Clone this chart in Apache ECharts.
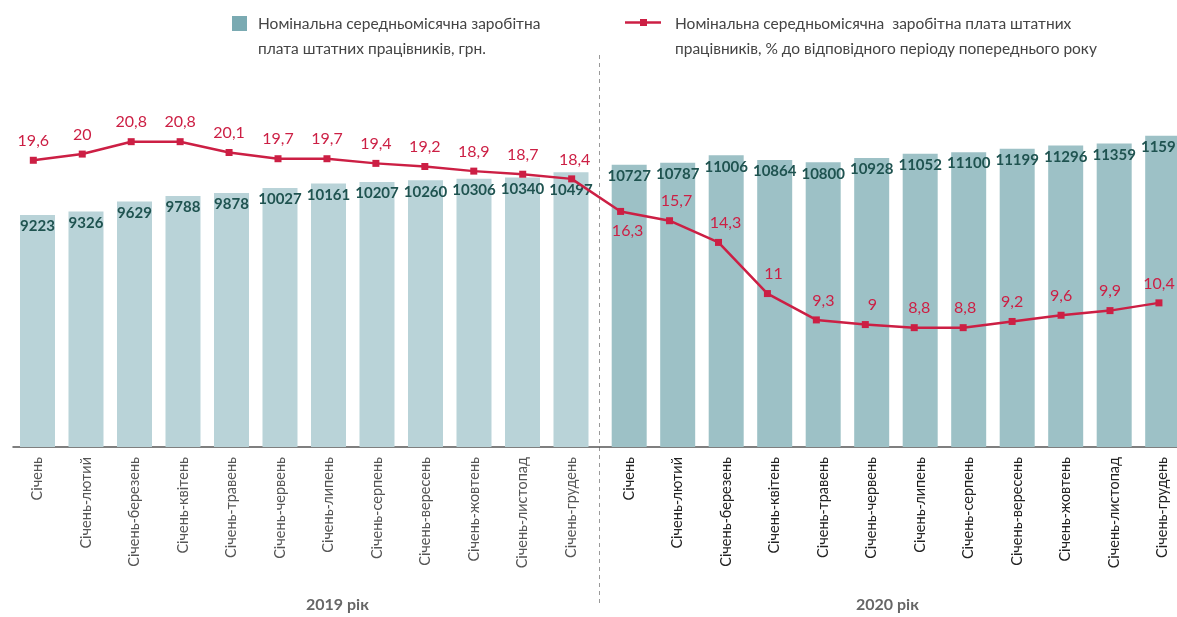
<!DOCTYPE html>
<html>
<head>
<meta charset="utf-8">
<script src="https://cdn.jsdelivr.net/npm/echarts@6/dist/echarts.min.js"></script>
<style>
  html, body { margin: 0; padding: 0; background: #fff; }
  #chart { width: 1177px; height: 617px; }
</style>
</head>
<body>
<div id="chart"></div>
<script>
// categories (same twelve periods for both years)
var periods = ['Січень', 'Січень-лютий', 'Січень-березень', 'Січень-квітень', 'Січень-травень',
    'Січень-червень', 'Січень-липень', 'Січень-серпень', 'Січень-вересень', 'Січень-жовтень',
    'Січень-листопад', 'Січень-грудень'];
var categories = periods.concat(periods);
var years = ['2019 рік', '2020 рік'];

// nominal average monthly wage, UAH
var wage = [9223, 9326, 9629, 9788, 9878, 10027, 10161, 10207, 10260, 10306, 10340, 10497,
    10727, 10787, 11006, 10864, 10800, 10928, 11052, 11100, 11199, 11296, 11359, 11591];
// % to the same period of previous year
var wagePct = [19.6, 20, 20.8, 20.8, 20.1, 19.7, 19.7, 19.4, 19.2, 18.9, 18.7, 18.4,
    16.3, 15.7, 14.3, 11, 9.3, 9, 8.8, 8.8, 9.2, 9.6, 9.9, 10.4];

var nameBar = 'Номінальна середньомісячна заробітна\nплата штатних працівників, грн.';
var nameLine = 'Номінальна середньомісячна  заробітна плата штатних\nпрацівників, % до відповідного періоду попереднього року';

var FONT = 'Lato, "Noto Sans", sans-serif';
var red = '#cc1f44';
var YEAR_GAP = 0.2; // extra space between the two years for the bars, in category units

// slot position of each bar on the x axis (second year shifted by the gap)
var pos = categories.map(function (c, i) { return i + (i >= 12 ? YEAR_GAP : 0); });
// the line in the original is spaced evenly, not following the bar gap
var lineLabelShift = { 11: [3, 0], 12: [7, 0], 13: [7, 0], 14: [7, 0], 15: [6, 0],
    16: [7, 0], 17: [7, 0], 18: [5, 0], 19: [2, 0] };

var chart = echarts.init(document.getElementById('chart'));

var barData = wage.map(function (v, i) {
    var item = {
        value: [pos[i], v],
        itemStyle: { color: i < 12 ? '#b9d3d8' : '#9dc1c6' }
    };
    if (i === 11) item.label = { offset: [0, 6] };
    return item;
});

var lineData = wagePct.map(function (v, i) {
    var item = { value: [i, v] };
    if (i === 12) {
        item.label = { position: 'bottom', distance: 8, offset: lineLabelShift[i] };
    } else if (lineLabelShift[i]) {
        item.label = { offset: lineLabelShift[i] };
    }
    return item;
});

var option = {
    animation: false,
    textStyle: { fontFamily: FONT },
    grid: { left: 13, right: 0, top: 60, bottom: 170, containLabel: false },
    xAxis: [
        {
            type: 'value',
            min: -0.505,
            max: 23.495,
            splitLine: { show: false },
            axisLine: { lineStyle: { color: '#555', width: 1.5 } },
            axisTick: { show: false },
            axisLabel: {
                customValues: pos,
                rotate: 90,
                margin: 10,
                fontSize: 14.5,
                formatter: function (v) {
                    for (var i = 0; i < pos.length; i++) {
                        if (Math.abs(pos[i] - v) < 1e-6) {
                            return i < 12 ? '{a|' + categories[i] + '}' : '{b|' + categories[i] + '}';
                        }
                    }
                    return '';
                },
                rich: {
                    a: { color: '#555', fontSize: 14.5, fontFamily: FONT },
                    b: { color: '#222', fontSize: 14.5, fontFamily: FONT }
                }
            }
        },
        {
            type: 'value',
            min: -0.415,
            max: 23.369,
            show: false
        }
    ],
    yAxis: [
        { type: 'value', min: 2300, max: 13850, show: false },
        { type: 'value', min: 1.1, max: 26.07, show: false }
    ],
    series: [
        {
            name: nameBar,
            type: 'bar',
            data: barData,
            barWidth: 35,
            label: {
                show: true,
                position: 'insideTop',
                distance: 4,
                color: '#1f5350',
                fontSize: 15,
                fontWeight: 'bold',
                formatter: function (p) { return p.value[1]; }
            },
            z: 2
        },
        {
            name: nameLine,
            type: 'line',
            xAxisIndex: 1,
            yAxisIndex: 1,
            data: lineData,
            symbol: 'rect',
            symbolSize: 7,
            lineStyle: { color: red, width: 2.5 },
            itemStyle: { color: red },
            label: {
                show: true,
                position: 'top',
                distance: 8,
                color: red,
                fontSize: 16,
                formatter: function (p) { return String(p.value[1]).replace('.', ','); }
            },
            z: 3
        }
    ],
    graphic: [
        // legend: bar
        {
            type: 'rect',
            shape: { x: 232, y: 16, width: 15, height: 15 },
            style: { fill: '#7aaab2' }
        },
        {
            type: 'text', left: 258, top: 11,
            style: { text: nameBar, fontSize: 15.5, lineHeight: 25, fill: '#444', fontFamily: FONT }
        },
        // legend: line
        {
            type: 'line',
            shape: { x1: 625, y1: 22.5, x2: 661, y2: 22.5 },
            style: { stroke: red, lineWidth: 2.5 }
        },
        {
            type: 'rect',
            shape: { x: 640, y: 19, width: 7, height: 7 },
            style: { fill: red }
        },
        {
            type: 'text', left: 675, top: 11,
            style: { text: nameLine, fontSize: 15.5, lineHeight: 25, fill: '#444', fontFamily: FONT }
        },
        // separator between the years
        {
            type: 'line',
            shape: { x1: 599.5, y1: 55, x2: 599.5, y2: 607 },
            style: { stroke: '#999', lineWidth: 1, lineDash: [4, 4] },
            silent: true
        },
        {
            type: 'text', left: 306, top: 597,
            style: { text: years[0], fontSize: 16, fontWeight: 'bold', fill: '#666', fontFamily: FONT }
        },
        {
            type: 'text', left: 856, top: 597,
            style: { text: years[1], fontSize: 16, fontWeight: 'bold', fill: '#666', fontFamily: FONT }
        }
    ]
};

chart.setOption(option);
</script>
</body>
</html>
